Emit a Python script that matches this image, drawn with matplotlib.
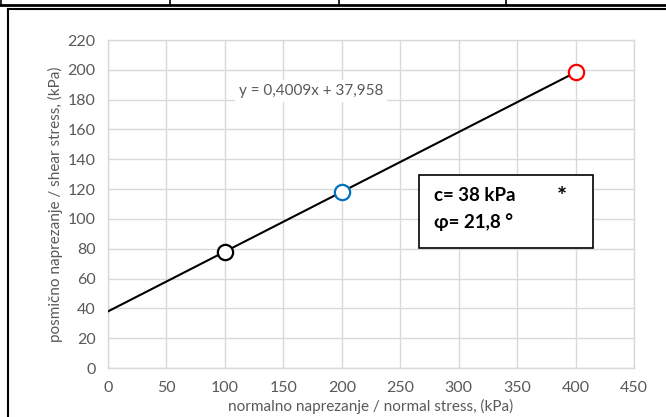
import numpy as np
import matplotlib.pyplot as plt
from matplotlib.patches import Rectangle
from matplotlib.lines import Line2D

# Data
normal_stress = [100, 200, 400]       # kPa
shear_stress = [78.1, 118.1, 198.3]   # kPa
point_colors = ['black', '#0070C0', '#FF0000']

# Linear trend line (from chart label)
slope = 0.4009
intercept = 37.958
trend_x = [0, 400]

x_ticks = [0, 50, 100, 150, 200, 250, 300, 350, 400, 450]
y_ticks = [0, 20, 40, 60, 80, 100, 120, 140, 160, 180, 200, 220]

plt.rcParams['font.family'] = ['Lato', 'DejaVu Sans']

W, H = 666, 417
fig = plt.figure(figsize=(W / 100, H / 100), dpi=100)
ax = fig.add_axes([108 / W, 1 - 368 / H, 526 / W, 328 / H])

grid_c = '#D9D9D9'
text_c = '#595959'

# trend line and points
ty = [slope * x + intercept for x in trend_x]
ax.plot(trend_x, ty, color='black', lw=1.5, zorder=3)
for x, y, c in zip(normal_stress, shear_stress, point_colors):
    ax.plot(x, y, 'o', mfc='white', mec=c, mew=1.6, ms=11, zorder=4)

ax.set_xlim(0, 450)
ax.set_ylim(0, 220)
ax.set_xticks(x_ticks)
ax.set_yticks(y_ticks)
ax.grid(True, color=grid_c, lw=1)
ax.set_axisbelow(True)
for s in ax.spines.values():
    s.set_color(grid_c)
    s.set_linewidth(1)
ax.tick_params(length=0, labelsize=11.5, labelcolor=text_c, pad=9)

ax.set_xlabel('normalno naprezanje / normal stress, (kPa)', fontsize=11,
              color=text_c, labelpad=3)
ax.set_ylabel('posmično naprezanje / shear stress, (kPa)', fontsize=11,
              color=text_c, labelpad=3)

ax.text(174, 186, 'y = 0,4009x + 37,958', fontsize=11, color=text_c,
        ha='center', va='center', zorder=2,
        bbox=dict(boxstyle='square,pad=0.25', fc='white', ec='none'))

# result box
ax.add_patch(Rectangle((0.591, 0.366), 0.331, 0.222, transform=ax.transAxes,
                       fc='white', ec='black', lw=1.2, zorder=5))
ax.text(0.62, 0.527, 'c= 38 kPa', transform=ax.transAxes, fontsize=13.5,
        fontweight='bold', ha='left', va='center', zorder=6)
ax.text(0.62, 0.445, 'φ= 21,8 °', transform=ax.transAxes, fontsize=13.5,
        fontweight='bold', ha='left', va='center', zorder=6)
ax.text(0.863, 0.52, '*', transform=ax.transAxes, fontsize=17,
        fontweight='bold', ha='center', va='center', zorder=6)

# outer frame and table lines at the top
fig.add_artist(Line2D([8 / W, 8 / W], [0, 1 - 9 / H], color='black', lw=1.5,
                      transform=fig.transFigure))
fig.add_artist(Line2D([8 / W, 1], [1 - 9 / H, 1 - 9 / H], color='black', lw=1.5,
                      transform=fig.transFigure))
fig.add_artist(Line2D([0, 1], [1 - 5 / H, 1 - 5 / H], color='black', lw=2,
                      transform=fig.transFigure))
for vx in [1, 170, 339, 506]:
    fig.add_artist(Line2D([vx / W, vx / W], [1 - 5 / H, 1], color='black', lw=1.2,
                          transform=fig.transFigure))

fig.savefig('out.png', dpi=100)
